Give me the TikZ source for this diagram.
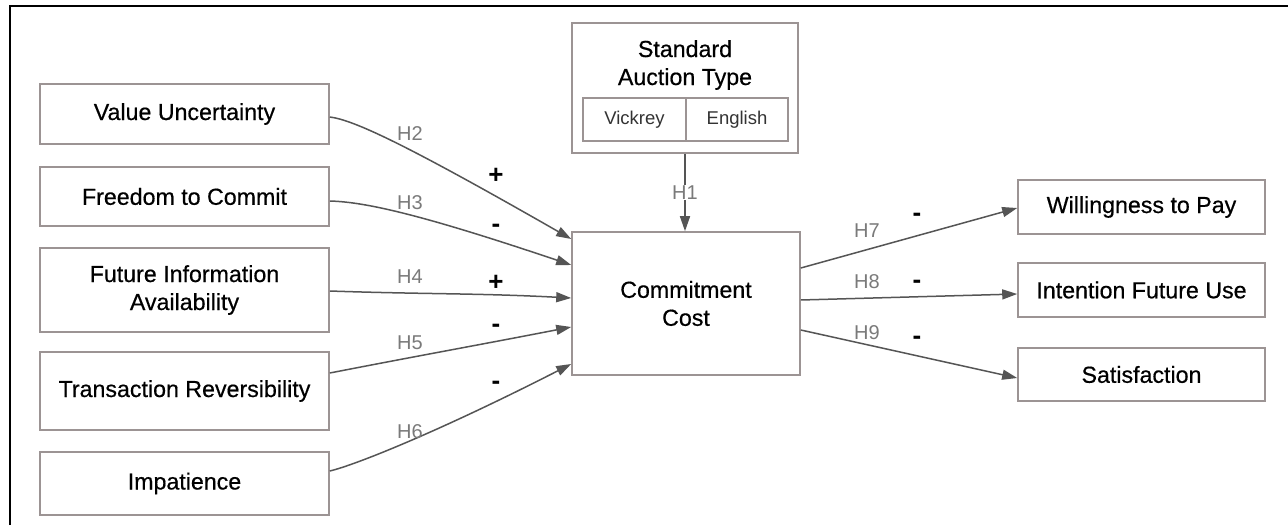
\documentclass[tikz,border=0pt]{standalone}
\usepackage{fontspec}
\setmainfont{Liberation Sans}
\newfontfamily\boxfont{Liberation Sans}[FakeBold=0.5]
\usetikzlibrary{arrows.meta}
\definecolor{boxline}{HTML}{9C9494}
\definecolor{conncol}{HTML}{555555}
\definecolor{labcol}{HTML}{7A7A7A}
\definecolor{subtxt}{HTML}{333333}
\tikzset{
  cbox/.style={draw=boxline, line width=1.6pt, fill=white, inner sep=0pt, align=center,
    font=\boxfont\fontsize{23.2}{28}\selectfont, text=black},
  subbox/.style={cbox, font=\rmfamily\fontsize{18.5}{22}\selectfont, text=subtxt},
  hlab/.style={font=\fontsize{20}{22}\selectfont, text=labcol, inner sep=1pt},
  sgn/.style={font=\fontsize{26}{28}\selectfont\bfseries, inner sep=0pt, text=black},
  conn/.style={draw=conncol, line width=1.5pt, -{Triangle[length=15pt,width=10pt]}},
}
\begin{document}
\begin{tikzpicture}[x=1pt,y=1pt]
\useasboundingbox (0,0) rectangle (1288,-525);
\fill[white] (0,0) rectangle (1288,-525);
% partial frame (top and left)
\draw[line width=2.5pt] (10,-525) -- (10,-6) -- (1288,-6);

% left boxes
\node[cbox, minimum width=289pt, minimum height=60pt] (vu)  at (184.5,-114)   {Value Uncertainty};
\node[cbox, minimum width=289pt, minimum height=59pt] (ftc) at (184.5,-196.5) {Freedom to Commit};
\node[cbox, minimum width=289pt, minimum height=84pt] (fia) at (184.5,-290)   {Future Information\\Availability};
\node[cbox, minimum width=289pt, minimum height=78pt] (tr)  at (184.5,-391)   {Transaction Reversibility};
\node[cbox, minimum width=289pt, minimum height=63pt] (imp) at (184.5,-483.5) {Impatience};

% centre
\node[cbox, minimum width=226pt, minimum height=130pt] (sat) at (685,-88) {};
\node[font=\boxfont\fontsize{23.2}{28}\selectfont, align=center, inner sep=0pt] (satt) at (685,-65) {Standard\\Auction Type};
\node[subbox, minimum width=103pt, minimum height=43pt] (vick) at (634.5,-119.5) {Vickrey};
\node[subbox, minimum width=102pt, minimum height=43pt] (eng)  at (737,-119.5)   {English};
\node[cbox, minimum width=228pt, minimum height=143pt] (cc) at (686,-303.5) {Commitment\\Cost};

% right boxes
\node[cbox, minimum width=247pt, minimum height=54pt] (wtp) at (1141.5,-207)   {Willingness to Pay};
\node[cbox, minimum width=247pt, minimum height=54pt] (ifu) at (1141.5,-290)   {Intention Future Use};
\node[cbox, minimum width=247pt, minimum height=53pt] (sf)  at (1141.5,-374.5) {Satisfaction};

% connectors into commitment cost
\draw[conn] ([yshift=-3pt]vu.east) .. controls (354,-120) and (407,-145) .. ([yshift=64.5pt]cc.west);
\draw[conn] ([yshift=-4.5pt]ftc.east) .. controls (365,-202) and (420,-214) .. ([yshift=38.5pt]cc.west);
\draw[conn] ([yshift=-1pt]fia.east)  to[out=-2, in=177] ([yshift=5.5pt]cc.west);
\draw[conn] ([yshift=18pt]tr.east)   to[out=11, in=191] ([yshift=-23.5pt]cc.west);
\draw[conn] ([yshift=12.5pt]imp.east) .. controls (355,-465) and (438,-432) .. ([yshift=-60.5pt]cc.west);
\draw[conn] (sat.south) -- (sat.south |- cc.north) node[midway, hlab, fill=white] (h1) {H1};

% connectors out of commitment cost
\draw[conn] ([yshift=35.5pt]cc.east) -- ([yshift=-1pt]wtp.west);
\draw[conn] ([yshift=3.5pt]cc.east)  -- ([yshift=-4pt]ifu.west);
\draw[conn] ([yshift=-26.5pt]cc.east) -- ([yshift=-3.5pt]sf.west);

% hypothesis labels
\node[hlab] (h2) at (410,-134) {H2};
\node[hlab] (h3) at (410,-203) {H3};
\node[hlab] (h4) at (410,-277) {H4};
\node[hlab] (h5) at (410,-343) {H5};
\node[hlab] (h6) at (410,-432) {H6};
\node[hlab] (h7) at (867,-231) {H7};
\node[hlab] (h8) at (867,-282) {H8};
\node[hlab] (h9) at (867,-333) {H9};

% signs
\node[sgn] (s2) at (496,-176) {+};
\node[sgn] (s3) at (496,-228) {-};
\node[sgn] (s4) at (496,-283) {+};
\node[sgn] (s5) at (496,-328) {-};
\node[sgn] (s6) at (496,-385) {-};
\node[sgn] (s7) at (917,-217) {-};
\node[sgn] (s8) at (917,-284) {-};
\node[sgn] (s9) at (917,-340) {-};
\end{tikzpicture}
\end{document}
